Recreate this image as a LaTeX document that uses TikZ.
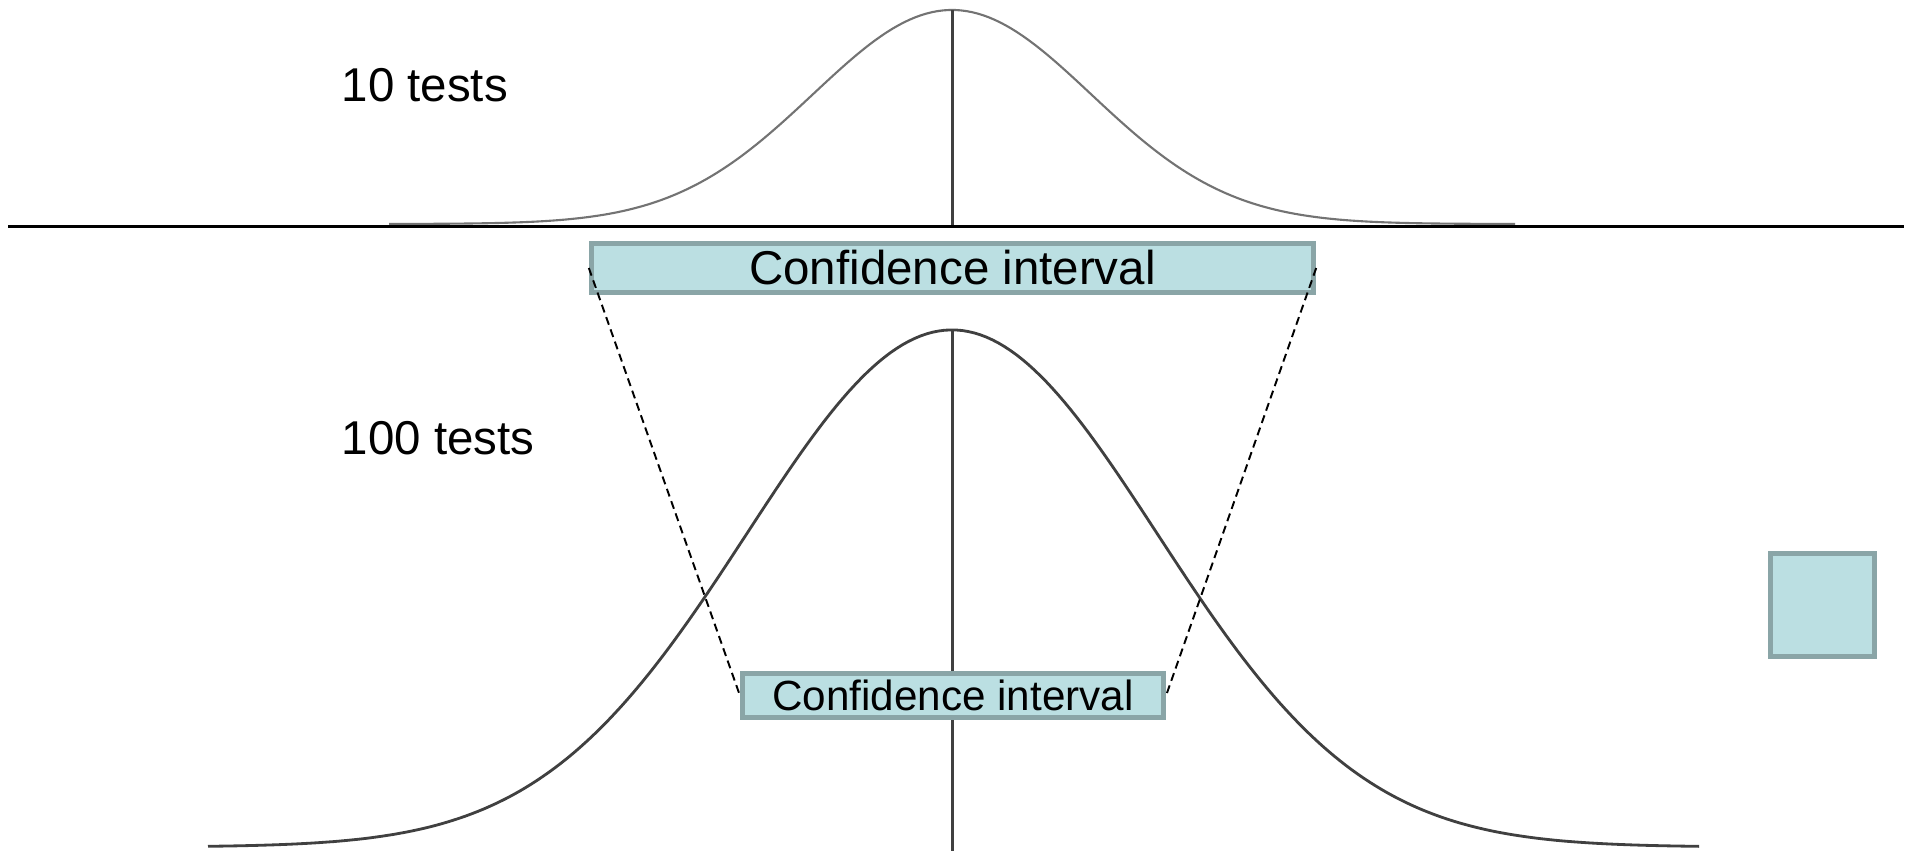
\documentclass[tikz,border=0pt]{standalone}
\usepackage{fontspec}
\setmainfont{Liberation Sans}
\usetikzlibrary{positioning}
\definecolor{cifill}{HTML}{BBDFE2}
\definecolor{ciedge}{HTML}{8AA5A7}
\definecolor{curvegray}{HTML}{505050}

\begin{document}
\begin{tikzpicture}[
    x=0.01cm, y=-0.01cm,
    ci/.style={rectangle, draw=ciedge, fill=cifill, line width=1.4pt, inner sep=0pt, align=center},
    label/.style={inner sep=0pt, anchor=west, font=\fontsize{13.5}{16}\selectfont},
    bell/.style={draw=curvegray, line width=0.6pt},
    axis/.style={draw=black!75, line width=0.85pt},
    dashline/.style={draw=black, line width=0.55pt, dash pattern=on 2.3pt off 1.4pt}
]
    \useasboundingbox (0,0) rectangle (1916,851);

    % 10 tests
    \draw[bell, draw=curvegray!80] plot[domain=389:1515, samples=200] (\x, {224-214*exp(-((\x-952)/139)^2/2)});
    \draw[axis] (952,10) -- (952,226);
    \node[label] (l10) at (341,85) {10 tests};
    \draw[black, line width=0.85pt] (8,226) -- (1904,226);

    % 100 tests
    \draw[bell, draw=black!75, line width=0.8pt] plot[domain=208:1699, samples=250] (\x, {847-517*exp(-((\x-952)/205)^2/2)});
    \draw[axis] (952,330) -- (952,851);
    \node[label] (l100) at (341,438) {100 tests};

    \node[ci, minimum width=7.22cm, minimum height=0.49cm, font=\fontsize{13.5}{16}\selectfont] (citop) at (952.5,268) {Confidence interval};
    \node[ci, minimum width=4.21cm, minimum height=0.44cm, font=\fontsize{12}{14}\selectfont] (cibot) at (953,695.5) {Confidence interval};
    \node[ci, minimum width=1.04cm, minimum height=1.03cm] (key) at (1822.5,605) {};

    \draw[dashline] (citop.west) -- (cibot.west);
    \draw[dashline] (citop.east) -- (cibot.east);
\end{tikzpicture}
\end{document}
